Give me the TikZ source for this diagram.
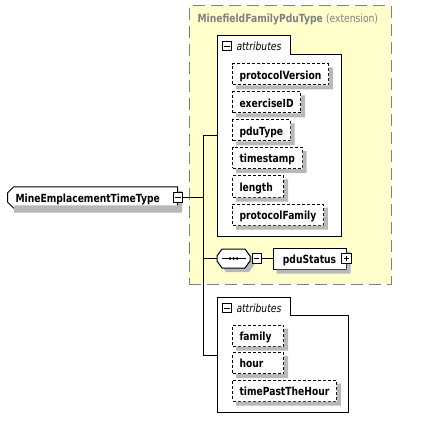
\documentclass[tikz,border=0pt]{standalone}
\usepackage{fontspec}
\setmainfont{DejaVu Sans}[FakeStretch=0.82]
\usetikzlibrary{shapes.misc}
\definecolor{extyellow}{RGB}{255,255,204}
\definecolor{extgray}{RGB}{128,128,128}
\definecolor{boxshade}{RGB}{184,184,184}
\begin{document}
\begin{tikzpicture}[x=1pt,y=-1pt,line width=1pt,
	every node/.style={font=\fontsize{11.2}{13}\selectfont\bfseries, inner sep=0pt},
	attr/.style={draw, dash pattern=on 3pt off 2pt, fill=white, anchor=west, minimum height=21pt, minimum width=51pt, inner xsep=7pt, text height=9.4pt, text depth=0pt},
	shortattr/.style={attr, text width=37pt, align=left},
	elem/.style={draw, fill=white, minimum height=21pt, text height=9.4pt, text depth=0pt},
	icon/.style={draw, fill=white, minimum size=9.5pt, line width=0.8pt},
	minusicon/.style={icon, path picture={\draw[line width=0.8pt] ([xshift=2pt]path picture bounding box.west) -- ([xshift=-2pt]path picture bounding box.east);}},
	plusicon/.style={icon, path picture={\draw[line width=0.8pt] ([xshift=2pt]path picture bounding box.west) -- ([xshift=-2pt]path picture bounding box.east); \draw[line width=0.8pt] ([yshift=2pt]path picture bounding box.south) -- ([yshift=-2pt]path picture bounding box.north);}},
	tablabel/.style={anchor=west, font=\fontsize{11.2}{13}\selectfont\itshape, text height=9.4pt, text depth=0pt},
	attrframe/.style={draw, fill=white}
	]
	
	\useasboundingbox[fill=white] (0,0) rectangle (430,430);
	
	% extension box
	\node[draw=extgray, fill=extyellow, dash pattern=on 12pt off 6pt, minimum width=202pt, minimum height=278pt] (ext) at (290,145) {};
	\node[anchor=west, text=extgray, text height=9.4pt, text depth=0pt] (extTitle) at (197,18) {MinefieldFamilyPduType \textmd{(extension)}};
	
	% first attributes group
	\draw[attrframe] (217,36) -- (290,36) -- (290,55) -- (341,55) -- (341,236) -- (217,236) -- cycle;
	\node[tablabel] (attrAlabel) at (236,45.5) {attributes};
	\node[attr] (protocolVersion) at (232,74.5) {protocolVersion};
	\node[attr] (exerciseID) at (232,102.5) {exerciseID};
	\node[attr] (pduType) at (232,130.5) {pduType};
	\node[attr] (timestamp) at (232,158) {timestamp};
	\node[shortattr] (length) at (232,186.5) {length};
	\node[attr] (protocolFamily) at (232,214.5) {protocolFamily};
	
	% root type
	\node[elem, chamfered rectangle, chamfered rectangle corners={north west,south west}, chamfered rectangle sep=3pt, minimum width=164pt, text width=154pt, inner xsep=5pt, align=left] (root) at (92.5,197.5) {MineEmplacementTimeType};
	
	% sequence and pduStatus
	\fill[boxshade, xshift=4pt, yshift=-4pt] (222,249) -- (245,249) -- (250,256) -- (250,261) -- (245,268) -- (222,268) -- (217,261) -- (217,256) -- cycle;
	\draw[fill=white] (222,249) -- (245,249) -- (250,256) -- (250,261) -- (245,268) -- (222,268) -- (217,261) -- (217,256) -- cycle;
	\node[minimum width=33pt, minimum height=19pt] (seq) at (233.5,258.5) {};
	\draw ([xshift=-12pt]seq.center) -- ([xshift=12pt]seq.center);
	\foreach \dx in {-3.5,0,3.5} \fill ([xshift=\dx pt]seq.center) circle (1.5pt);
	\node[elem, minimum width=73pt] (pduStatus) at (309.5,258.5) {pduStatus};
	
	% second attributes group
	\draw[attrframe] (217,297) -- (290,297) -- (290,315) -- (348,315) -- (348,412) -- (217,412) -- cycle;
	\node[tablabel] (attrBlabel) at (236,307.5) {attributes};
	\node[shortattr] (family) at (232,335.5) {family};
	\node[shortattr] (hour) at (232,363) {hour};
	\node[attr] (timePastTheHour) at (232,390.5) {timePastTheHour};
	
	% shadows
	\foreach \n in {protocolVersion,exerciseID,pduType,timestamp,length,protocolFamily,family,hour,timePastTheHour,pduStatus,root}
		\fill[boxshade] ([shift={(0,4)}]\n.north east) rectangle ([shift={(4,4)}]\n.south east)
			([shift={(4,0)}]\n.south west) rectangle ([shift={(4,4)}]\n.south east);
	
	% icons
	\node[minusicon] (attrAminus) at (227,46) {};
	\node[minusicon] (attrBminus) at (227,308) {};
	\node[minusicon] (rootminus) at (root.east) {};
	\node[minusicon, anchor=west] (seqminus) at ([xshift=1pt]seq.east) {};
	\node[plusicon] (pduStatusplus) at (pduStatus.east) {};
	
	% connectors
	\coordinate (spineTop) at (203,136);
	\coordinate (spineRoot) at (203,197.5);
	\coordinate (spineSeq) at (203,258.5);
	\coordinate (spineBot) at (203,355);
	\coordinate (attrAin) at (217,136);
	\coordinate (attrBin) at (217,355);
	
	\path (rootminus) edge (spineRoot);
	\path (spineTop) edge (spineBot);
	\path (spineTop) edge (attrAin);
	\path (spineSeq) edge (seq);
	\path (seqminus) edge (pduStatus);
	\path (spineBot) edge (attrBin);
	
\end{tikzpicture}
\end{document}
